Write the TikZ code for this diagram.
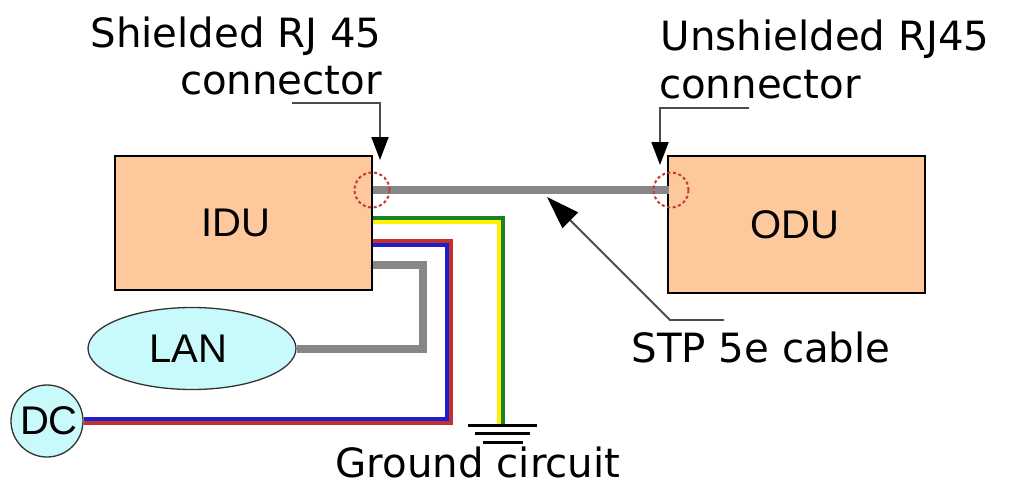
\documentclass[tikz,border=0pt]{standalone}
\usepackage{fontspec}
\setmainfont{DejaVu Sans}
\newfontfamily\boxfont{Liberation Sans}
\usetikzlibrary{arrows.meta,shapes.geometric}
\definecolor{unitfill}{RGB}{253,200,155}
\definecolor{linkfill}{RGB}{200,250,252}
\definecolor{wirered}{RGB}{195,50,45}
\definecolor{wireblue}{RGB}{30,30,205}
\definecolor{wiregreen}{RGB}{25,130,35}
\definecolor{jointred}{RGB}{195,60,50}
\tikzset{
    unit/.style = {
        draw,
        line width=1.3pt,
        fill = unitfill,
        minimum width=257pt,
        font=\boxfont\fontsize{40}{40}\selectfont,
        },
    source/.style = {
        draw = black!80,
        line width=1.3pt,
        fill = linkfill,
        font=\boxfont\fontsize{40}{40}\selectfont,
        inner sep=0pt,
        },
    label/.style = {
        font=\fontsize{40.3}{40.3}\selectfont,
        anchor=base,
        inner sep=0pt,
        },
    leader/.style = {
        draw = black!70,
        line width=1.8pt,
        -{Triangle[black,length=23pt,width=17pt]},
        },
    big leader/.style = {
        leader,
        -{Triangle[black,length=33pt,width=22pt]},
        },
    joint/.style = {
        draw = jointred,
        dash pattern=on 3pt off 2.6pt,
        line width=2pt,
        circle,
        minimum size=35pt,
        inner sep=0pt,
        },
    wire/.style = {
        line width=4pt,
        },
    cable/.style = {
        draw = black!47,
        line width=8pt,
        },
    earth/.style = {
        line width=3pt,
        }
}
\begin{document}
\begin{tikzpicture}[x=1pt,y=-1pt]
            \useasboundingbox (0,0) rectangle (1009,482);

            \node[unit, minimum height=134pt] (idu) at (243.5,223) {IDU\hspace*{16pt}};
            \node[unit, minimum height=137pt] (odu) at (796.5,224.5) {ODU\hspace*{3pt}};
            \node[source, ellipse, minimum width=208pt, minimum height=82pt] (lan) at (192,348.5) {LAN\hspace*{8pt}};
            \node[source, circle, minimum size=72pt] (dc) at (47,421) {\hspace*{4pt}DC};

            \node[label] (shielded) at (236,47) {Shielded RJ 45};
            \node[label] (shieldedb) at (281,94) {connector};
            \node[label] (unshielded) at (825,50) {Unshielded RJ45};
            \node[label] (unshieldedb) at (760,98) {connector};
            \node[label] (stp) at (761,362) {STP 5e cable};
            \node[label] (ground) at (478,477) {Ground circuit};

            \coordinate (corner1) at (292,103);
            \coordinate (corner2) at (380,103);
            \coordinate (corner3) at (660,108);
            \coordinate (corner4) at (749,108);
            \coordinate (corner5) at (724,320);
            \coordinate (corner6) at (670,320);
            \coordinate (tip1) at (380,160);
            \coordinate (tip2) at (660,165);
            \coordinate (tip3) at (547,197);

            %wires from the indoor unit
            \draw[wire, wirered] (idu.east |- 0,241) -- (451,241) -- (451,423) -- (dc.east |- 0,423);
            \draw[wire, wireblue] (idu.east |- 0,245) -- (447,245) -- (447,419) -- (dc.east |- 0,419);
            \draw[wire, wiregreen] (idu.east |- 0,218) -- (503,218) -- (503,425);
            \draw[wire, yellow] (idu.east |- 0,222) -- (499,222) -- (499,425);
            \draw[cable] (idu.east |- 0,265) -- (423,265) -- (423,348.5) -- (lan.east);
            \draw[cable] (idu.east |- 0,190) -- ([xshift=2pt]odu.west |- 0,190);

            %ground symbol
            \draw[earth] (468,425) -- (537,425);
            \draw[earth] (475,433) -- (530,433);
            \draw[earth] (483,442) -- (523,442);

            \node[joint] (jointa) at (372,190) {};
            \node[joint] (jointb) at (671,190) {};

            \draw[leader] (corner1) -- (corner2) -- (tip1);
            \draw[leader] (corner4) -- (corner3) -- (tip2);
            \draw[big leader] (corner5) -- (corner6) -- (tip3);
        \end{tikzpicture}
\end{document}
